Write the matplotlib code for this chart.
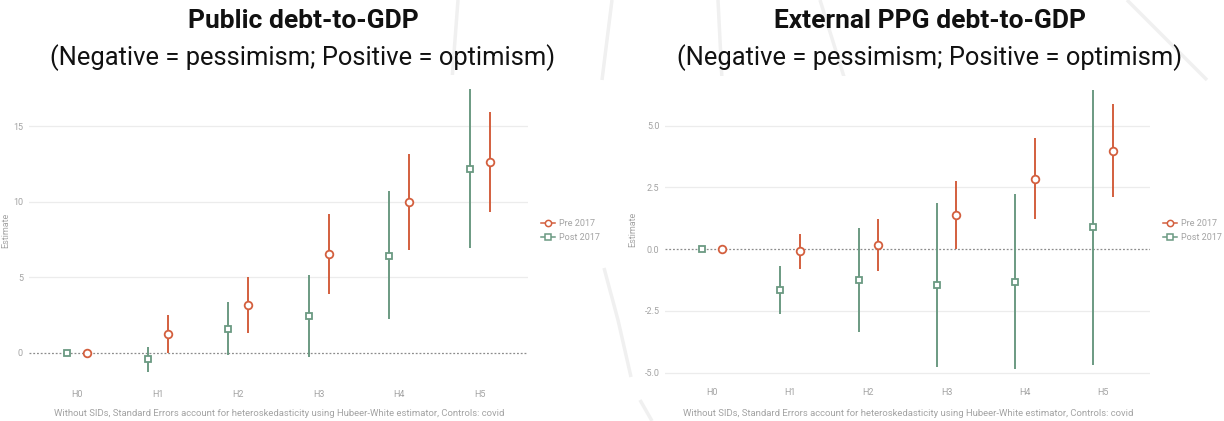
import matplotlib.pyplot as plt
import numpy as np
from matplotlib.patches import Rectangle

plt.rcParams['font.family'] = ['Roboto', 'DejaVu Sans']

horizons = ['H0', 'H1', 'H2', 'H3', 'H4', 'H5']

# public debt-to-GDP: point estimate, lower, upper
public_pre = [0.0, 1.24, 3.18, 6.54, 9.98, 12.61]
public_pre_lo = [0.0, 0.0, 1.28, 3.89, 6.78, 9.30]
public_pre_hi = [0.0, 2.48, 5.03, 9.19, 13.20, 15.92]
public_post = [0.0, -0.44, 1.59, 2.41, 6.42, 12.19]
public_post_lo = [0.0, -1.28, -0.17, -0.30, 2.21, 6.91]
public_post_hi = [0.0, 0.40, 3.36, 5.17, 10.69, 17.45]

# external PPG debt-to-GDP
ext_pre = [0.0, -0.08, 0.17, 1.39, 2.85, 3.98]
ext_pre_lo = [0.0, -0.80, -0.89, 0.0, 1.21, 2.09]
ext_pre_hi = [0.0, 0.61, 1.23, 2.77, 4.49, 5.87]
ext_post = [0.0, -1.66, -1.26, -1.44, -1.32, 0.89]
ext_post_lo = [0.0, -2.64, -3.35, -4.79, -4.87, -4.70]
ext_post_hi = [0.0, -0.68, 0.85, 1.87, 2.23, 6.44]

public_ticks = [0, 5, 10, 15]
ext_ticks = [-5.0, -2.5, 0.0, 2.5, 5.0]

RED = '#d35f3e'
GREEN = '#6b9a82'
GREY = '#a3a3a3'

W, H = 1224, 421
fig = plt.figure(figsize=(W / 100, H / 100), dpi=100)


def px(x0, y0, x1, y1):
    # pixel box (top-left origin) -> figure fraction rect
    return [x0 / W, 1 - y1 / H, (x1 - x0) / W, (y1 - y0) / H]


# faint background strokes
bg = fig.add_axes([0, 0, 1, 1], zorder=-5)
bg.set_xlim(0, W)
bg.set_ylim(H, 0)
bg.axis('off')
strokes = [
    ([458, 452], [0, 80]),
    ([612, 602], [0, 80]),
    ([718, 722], [0, 80]),
    ([820, 845], [0, 80]),
    ([1127, 1207], [0, 80]),
    ([604, 618, 631], [268, 320, 377]),
    ([640, 652], [400, 421]),
]
for xs, ys in strokes:
    bg.plot(xs, ys, color='#f0f0f0', lw=2.5, solid_capstyle='butt')
bg.add_patch(Rectangle((0, 80), 604, 341, color='white'))
bg.add_patch(Rectangle((632, 80), 592, 341, color='white'))


def draw_panel(rect, pre, pre_lo, pre_hi, post, post_lo, post_hi, ticks, ylim, fmt, lx):
    ax = fig.add_axes(rect)
    x = np.arange(len(horizons))
    off = 0.125
    ax.axhline(0, color='#8c8c8c', lw=0.9, ls=(0, (1.5, 1.5)), zorder=1)
    for t in ticks:
        if t != 0:
            ax.axhline(t, color='#ececec', lw=0.9, zorder=0)
    ax.vlines(x - off, post_lo, post_hi, color=GREEN, lw=1.4, zorder=2)
    ax.vlines(x + off, pre_lo, pre_hi, color=RED, lw=1.4, zorder=2)
    ax.plot(x + off, pre, 'o', ms=5.5, mfc='white', mec=RED, mew=1.3, zorder=3)
    ax.plot(x - off, post, 's', ms=5, mfc='white', mec=GREEN, mew=1.3, zorder=3)
    ax.set_xlim(-0.6, len(horizons) - 0.4)
    ax.set_ylim(*ylim)
    ax.set_xticks(x)
    ax.set_xticklabels(horizons)
    ax.set_yticks(ticks)
    ax.set_yticklabels([fmt.format(t) for t in ticks])
    ax.tick_params(length=0, colors=GREY, labelsize=6.5, pad=3)
    ax.tick_params(axis='y', pad=4)
    for s in ax.spines.values():
        s.set_visible(False)
    ax.set_facecolor('white')
    ax.set_ylabel('Estimate', color=GREY, fontsize=6.5)
    ax.yaxis.set_label_coords(lx, 0.5)
    return ax


ax1 = draw_panel(px(28.6, 75, 528.4, 386), public_pre, public_pre_lo, public_pre_hi,
                 public_post, public_post_lo, public_post_hi, public_ticks, (-2.2, 18.4),
                 '{:g}', -0.037)
ax2 = draw_panel(px(665, 75.9, 1150, 383.4), ext_pre, ext_pre_lo, ext_pre_hi,
                 ext_post, ext_post_lo, ext_post_hi, ext_ticks, (-5.44, 7.01),
                 '{:.1f}', -0.058)

for cx, title in [(303, 'Public debt-to-GDP'), (930, 'External PPG debt-to-GDP')]:
    fig.text(cx / W, 1 - 21 / H, title, ha='center', va='center', fontsize=19,
             fontweight='bold', color='#111111')
    fig.text(cx / W, 1 - 58 / H, '(Negative = pessimism; Positive = optimism)',
             ha='center', va='center', fontsize=18.4, color='#111111')

caption = ('Without SIDs, Standard Errors account for heteroskedasticity '
           'using Hubeer-White estimator, Controls: covid')
for cx in [279, 908]:
    fig.text(cx / W, 1 - 414 / H, caption, ha='center', va='center', fontsize=6.8, color=GREY)

# legends
for lx in [541, 1163]:
    h_pre, = fig.axes[0].plot([], [], '-o', color=RED, ms=4.5, mfc='white', mew=1.1, lw=1.1)
    h_post, = fig.axes[0].plot([], [], '-s', color=GREEN, ms=4, mfc='white', mew=1.1, lw=1.1)
    fig.legend([h_pre, h_post], ['Pre 2017', 'Post 2017'], loc='center left',
               bbox_to_anchor=(lx / W, 1 - 230.5 / H), frameon=False, fontsize=6.5,
               labelcolor=GREY, handlelength=1.5, handletextpad=0.5,
               labelspacing=0.55, borderpad=0, borderaxespad=0)

fig.savefig('out.png', dpi=100)
